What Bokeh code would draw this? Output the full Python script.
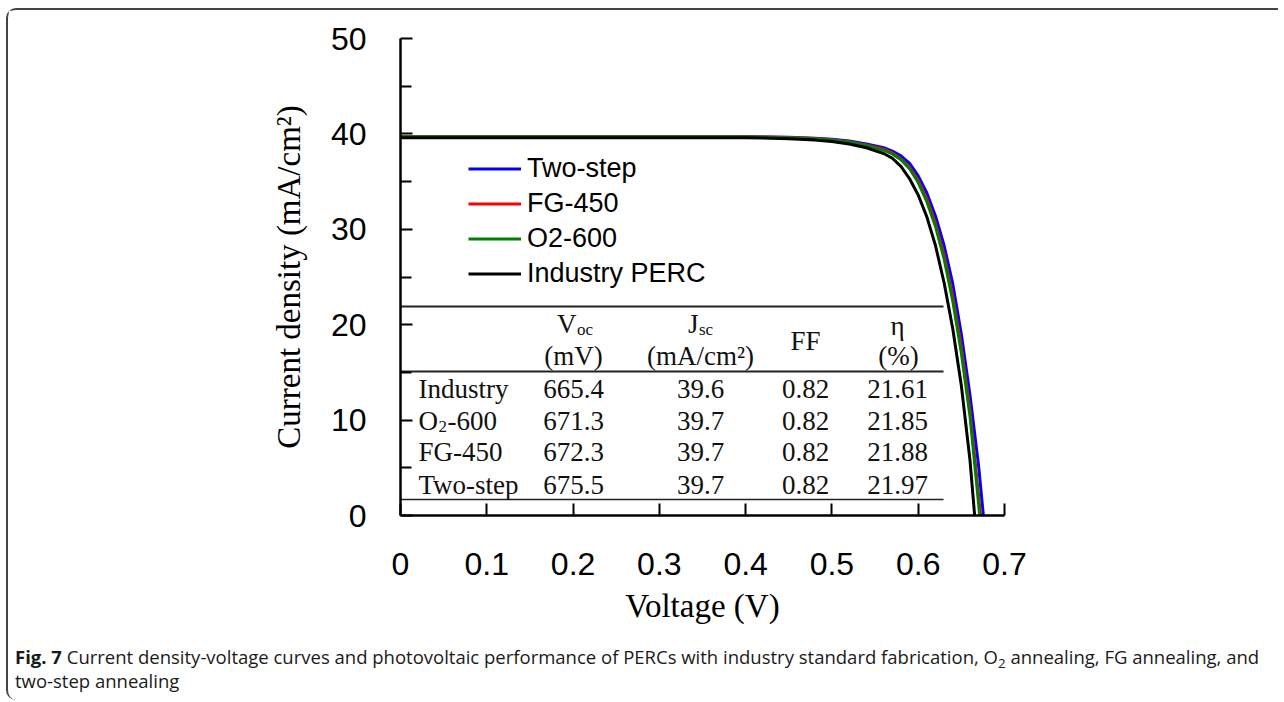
from bokeh.plotting import figure
from bokeh.models import Range1d, Legend, LegendItem, FixedTicker, Div
from bokeh.layouts import column
from bokeh.core.properties import value
from bokeh.embed import file_html
from bokeh.resources import INLINE

# ---------------- data ----------------
two_step_v = [0.0, 0.05, 0.1, 0.15, 0.2, 0.25, 0.3, 0.35, 0.4, 0.45, 0.48, 0.50, 0.52, 0.54,
              0.56, 0.57, 0.58, 0.59, 0.60, 0.61, 0.62, 0.63, 0.64, 0.65, 0.66, 0.67, 0.6755]
two_step_j = [39.7, 39.7, 39.7, 39.7, 39.7, 39.7, 39.7, 39.7, 39.7, 39.65, 39.55, 39.45, 39.25, 38.95,
              38.55, 38.2, 37.7, 36.9, 35.6, 33.8, 31.4, 28.3, 24.3, 19.0, 12.6, 5.2, 0.0]

fg450_v = [0.0, 0.05, 0.1, 0.15, 0.2, 0.25, 0.3, 0.35, 0.4, 0.45, 0.48, 0.50, 0.52, 0.54,
           0.56, 0.57, 0.58, 0.59, 0.60, 0.61, 0.62, 0.63, 0.64, 0.65, 0.66, 0.6723]
fg450_j = [39.7, 39.7, 39.7, 39.7, 39.7, 39.7, 39.7, 39.7, 39.7, 39.62, 39.52, 39.40, 39.18, 38.85,
           38.4, 38.0, 37.4, 36.5, 35.1, 33.2, 30.6, 27.3, 23.0, 17.6, 11.0, 0.0]

o2600_v = [0.0, 0.05, 0.1, 0.15, 0.2, 0.25, 0.3, 0.35, 0.4, 0.45, 0.48, 0.50, 0.52, 0.54,
           0.56, 0.57, 0.58, 0.59, 0.60, 0.61, 0.62, 0.63, 0.64, 0.65, 0.66, 0.6713]
o2600_j = [39.7, 39.7, 39.7, 39.7, 39.7, 39.7, 39.7, 39.7, 39.7, 39.6, 39.5, 39.37, 39.15, 38.8,
           38.3, 37.9, 37.3, 36.35, 34.9, 32.9, 30.3, 26.9, 22.5, 17.0, 10.4, 0.0]

industry_v = [0.0, 0.05, 0.1, 0.15, 0.2, 0.25, 0.3, 0.35, 0.4, 0.45, 0.48, 0.50, 0.52, 0.54,
              0.56, 0.57, 0.58, 0.59, 0.60, 0.61, 0.62, 0.63, 0.64, 0.65, 0.66, 0.6654]
industry_j = [39.6, 39.6, 39.6, 39.6, 39.6, 39.6, 39.6, 39.6, 39.6, 39.5, 39.35, 39.2, 38.95, 38.55,
              37.95, 37.45, 36.6, 35.3, 33.6, 31.3, 28.3, 24.4, 19.6, 13.6, 5.8, 0.0]

series_names = ["Two-step", "FG-450", "O2-600", "Industry PERC"]
series_colors = ["#0000ff", "#ff0000", "#008000", "#000000"]

x_ticks = [0.0, 0.1, 0.2, 0.3, 0.4, 0.5, 0.6, 0.7]
x_tick_labels = ["0", "0.1", "0.2", "0.3", "0.4", "0.5", "0.6", "0.7"]
y_ticks = [0, 10, 20, 30, 40, 50]
y_minor_ticks = [5, 15, 25, 35, 45]

table_rows = ["Industry", "O2-600", "FG-450", "Two-step"]
table_voc = ["665.4", "671.3", "672.3", "675.5"]
table_jsc = ["39.6", "39.7", "39.7", "39.7"]
table_ff = ["0.82", "0.82", "0.82", "0.82"]
table_eta = ["21.61", "21.85", "21.88", "21.97"]

caption_bold = "Fig. 7"
caption_line1 = ("Current density-voltage curves and photovoltaic performance of PERCs with industry "
                 "standard fabrication, O<span style=\"font-size:0.72em; position:relative; top:0.3em; "
                 "line-height:0;\">2</span> annealing, FG annealing, and")
caption_line2 = "two-step annealing"

# ---------------- figure ----------------
# canvas sits at page (8, 10): column margin (8 top, 6 left) + 2px border
W, H = 1270, 635
p = figure(width=W, height=H, output_backend="svg", toolbar_location=None,
           x_range=Range1d(0, 0.7), y_range=Range1d(0, 50),
           min_border_left=392, min_border_right=274, min_border_top=28, min_border_bottom=130)
p.background_fill_color = "white"
p.border_fill_color = "white"
p.outline_line_color = None
p.grid.grid_line_color = None

SANS = "Liberation Sans"
SERIF = "Liberation Serif"

# x axis
xa = p.xaxis[0]
xa.ticker = FixedTicker(ticks=x_ticks)
xa.major_label_overrides = {t: l for t, l in zip(x_ticks, x_tick_labels)}
xa.axis_label = "Voltage (V)"
xa.axis_label_text_font = SERIF
xa.axis_label_text_font_style = "normal"
xa.axis_label_text_font_size = "33px"
xa.axis_label_text_color = "black"
xa.axis_label_standoff = 10
xa.major_label_text_font = SANS
xa.major_label_text_font_size = "32px"
xa.major_label_text_color = "black"
xa.major_label_standoff = 37
xa.major_tick_in = 12
xa.major_tick_out = 0
xa.minor_tick_in = 0
xa.minor_tick_out = 0
xa.axis_line_width = 2.5
xa.major_tick_line_width = 2

# y axis
ya = p.yaxis[0]
ya.ticker = FixedTicker(ticks=y_ticks, minor_ticks=y_minor_ticks)
ya.axis_label = "Current density (mA/cm\u00b2)"
ya.axis_label_text_font = SERIF
ya.axis_label_text_font_style = "normal"
ya.axis_label_text_font_size = "33px"
ya.axis_label_text_color = "black"
ya.axis_label_standoff = 21
ya.major_label_text_font = SANS
ya.major_label_text_font_size = "32px"
ya.major_label_text_color = "black"
ya.major_label_standoff = 34
ya.major_tick_in = 12
ya.major_tick_out = 0
ya.minor_tick_in = 11
ya.minor_tick_out = 0
ya.axis_line_width = 2.5
ya.major_tick_line_width = 2
ya.minor_tick_line_width = 2

# curves
series_v = [two_step_v, fg450_v, o2600_v, industry_v]
series_j = [two_step_j, fg450_j, o2600_j, industry_j]
renderers = []
for v, j, c in zip(series_v, series_j, series_colors):
    renderers.append(p.line(v, j, line_color=c, line_width=3))

legend = Legend(items=[LegendItem(label=n, renderers=[r]) for n, r in zip(series_names, renderers)],
                location=(68, 224), orientation="vertical",
                label_text_font=SANS, label_text_font_size="27px", label_text_color="black",
                glyph_width=53, glyph_height=35, label_height=35, label_standoff=6,
                spacing=0, padding=0, margin=0,
                border_line_color=None, background_fill_alpha=0)
p.add_layout(legend)

# ---------------- table (placed in plot coordinates) ----------------
PXX = 0.7 / 604.0   # voltage per pixel
PXY = 50.0 / 477.0  # current density per pixel
def dx(px):
    return (px - 400) * PXX
def dy(py):
    return (515 - py) * PXY

tcol = "#111111"
tfs = "27px"
tsub = "17px"
for ry, lw in [(306, 2), (371, 2), (499, 1.5)]:
    p.line([dx(400), dx(943)], [dy(ry), dy(ry)], line_color="#222222", line_width=lw)

row_y = [dy(388), dy(420), dy(451), dy(484)]
def ttext(x, y, s, align="center", size=tfs):
    p.text(x=[x], y=[y], text=[s], text_align=align, text_baseline="middle",
           text_font=value(SERIF), text_font_size=size, text_color=tcol)

ttext(dx(576), dy(323), "V", align="right")
ttext(dx(576.5), dy(329), "oc", align="left", size=tsub)
ttext(dx(573), dy(355), "(mV)")
ttext(dx(698), dy(323), "J", align="right")
ttext(dx(698.5), dy(329), "sc", align="left", size=tsub)
ttext(dx(700), dy(355), "(mA/cm\u00b2)")
ttext(dx(805), dy(340), "FF")
ttext(dx(897), dy(325), "\u03b7")
ttext(dx(898), dy(355), "(%)")

for i, name in enumerate(table_rows):
    y = row_y[i]
    if name.startswith("O2"):
        ttext(dx(418), y, "O", align="left")
        ttext(dx(438), y - 6 * PXY, "2", align="left", size=tsub)
        ttext(dx(447), y, name[2:], align="left")
    else:
        ttext(dx(418), y, name, align="left")
    ttext(dx(573), y, table_voc[i])
    ttext(dx(700), y, table_jsc[i])
    ttext(dx(805), y, table_ff[i])
    ttext(dx(897), y, table_eta[i])

# ---------------- caption ----------------
cap_html = (
    '<div style="margin-left:7px; font-family:\'Open Sans\', sans-serif; font-size:18.5px; '
    'line-height:24px; color:#1a1a1a; white-space:nowrap;">'
    '<b>' + caption_bold + '</b> ' + caption_line1 + '<br>' + caption_line2 + '</div>'
)
cap = Div(text=cap_html, width=W, height=55, margin=0)

layout = column(p, cap, margin=(8, 0, 0, 6), spacing=0,
                styles={"border-top": "2px solid #444", "border-left": "2px solid #444",
                        "border-top-left-radius": "10px", "border-bottom-left-radius": "10px"})

open("out.html", "w").write(file_html(layout, INLINE))
